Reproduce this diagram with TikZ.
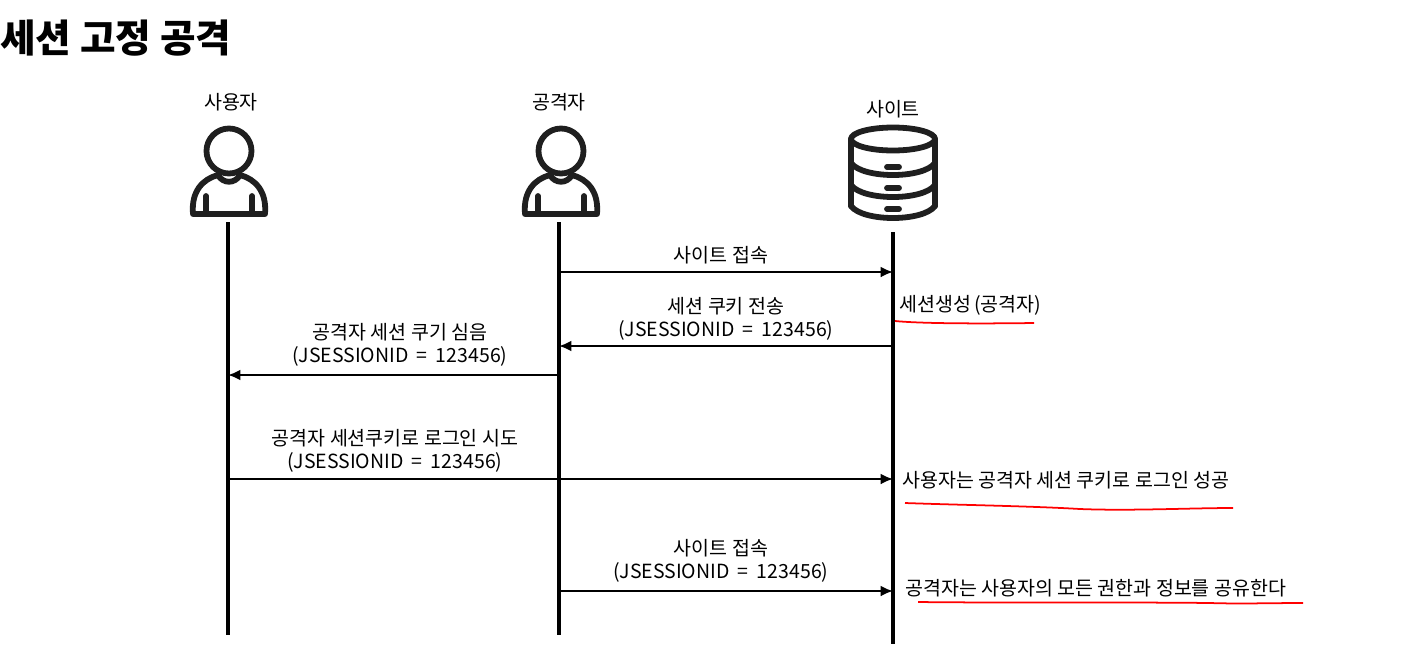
\documentclass[tikz,border=0pt]{standalone}
\usepackage{fontspec}
\setmainfont{Noto Sans CJK KR}
\usetikzlibrary{arrows.meta}
\newcommand{\sessionid}{(JSESSIONID\hspace{2.2pt} = \hspace{2.2pt}123456)}
\tikzset{
    lifeline/.style={line width=2.3pt, black},
    message/.style={line width=1.3pt, -{Latex[length=7pt, width=6.2pt]}},
    msglabel/.style={align=center, inner sep=0pt, font=\fontsize{11.1}{13}\selectfont},
    notelabel/.style={anchor=west, inner sep=0pt, font=\fontsize{11.1}{13}\selectfont},
    scribble/.style={red, line width=1pt},
    icon/.style={line width=3.3pt, color=black!88, line cap=round, line join=round},
    person/.pic={
        \draw[icon] (0, -4) circle (22.5);
        \draw[icon] (-36, 59) -- (36, 59) .. controls (38, 36) and (26, 24) .. (11, 20)
            .. controls (6, 29) and (-6, 29) .. (-11, 20) .. controls (-26, 24) and (-38, 36) .. cycle;
        \draw[icon] (-23, 41) -- (-23, 58);
        \draw[icon] (23, 41) -- (23, 58);
    },
    database/.pic={
        \draw[icon] (0, 0) ellipse (42 and 11.5);
        \draw[icon] (-42, 0) -- (-42, 67);
        \draw[icon] (42, 0) -- (42, 67);
        \foreach \by in {24, 46, 67} {
            \draw[icon] (-42, \by) .. controls (-30, \by + 16) and (30, \by + 16) .. (42, \by);
        }
        \foreach \by in {28, 49, 70} {
            \draw[icon] (-6, \by) -- (6, \by);
        }
    }
}
\begin{document}
\begin{tikzpicture}[x=0.02cm, y=-0.02cm]
    \useasboundingbox (0, 0) rectangle (1409, 664);

    % Title
    \node[anchor=west, inner sep=0pt, font=\fontsize{22}{26}\selectfont\bfseries] (title) at (0, 38) {세션 고정 공격};

    % Actors
    \node[msglabel] (user) at (231, 102.5) {사용자};
    \node[msglabel] (attacker) at (559, 102.5) {공격자};
    \node[msglabel] (site) at (893, 109) {사이트};
    \pic at (229, 155) {person};
    \pic at (561, 155) {person};
    \pic at (893, 139) {database};

    % Lifelines
    \coordinate (userTop) at (228, 222);
    \coordinate (userEnd) at (228, 635);
    \coordinate (attackerTop) at (559, 222);
    \coordinate (attackerEnd) at (559, 635);
    \coordinate (siteTop) at (893, 232);
    \coordinate (siteEnd) at (893, 644);
    \draw[lifeline] (userTop) -- (userEnd);
    \draw[lifeline] (attackerTop) -- (attackerEnd);
    \draw[lifeline] (siteTop) -- (siteEnd);

    % Messages
    \coordinate (m1) at (0, 272);
    \coordinate (m2) at (0, 346);
    \coordinate (m3) at (0, 375);
    \coordinate (m4) at (0, 479);
    \coordinate (m5) at (0, 591);
    \draw[message] (attackerTop |- m1) -- (siteTop |- m1);
    \draw[message] (siteTop |- m2) -- (attackerTop |- m2);
    \draw[message] (attackerTop |- m3) -- (userTop |- m3);
    \draw[message] (userTop |- m4) -- (siteTop |- m4);
    \draw[message] (attackerTop |- m5) -- (siteTop |- m5);

    % Message labels
    \node[msglabel] (visit) at (721, 255) {사이트 접속};
    \node[msglabel] (issue) at (726, 318.5) {세션 쿠키 전송\\\sessionid};
    \node[msglabel] (plant) at (400, 344.5) {공격자 세션 쿠기 심음\\\sessionid};
    \node[msglabel] (login) at (395, 450.5) {공격자 세션쿠키로 로그인 시도\\\sessionid};
    \node[msglabel] (revisit) at (721, 561) {사이트 접속\\\sessionid};

    % Notes on the right and their underlines
    \node[notelabel] (created) at (899, 305) {세션생성\,(공격자)};
    \node[notelabel] (success) at (902, 480) {사용자는 공격자 세션 쿠키로 로그인 성공};
    \node[notelabel] (shared) at (905, 588) {공격자는 사용자의 모든 권한과 정보를 공유한다};
    \draw[scribble] (895, 321) .. controls (915, 323) and (960, 324) .. (1034, 323);
    \draw[scribble] (905, 503) .. controls (960, 505) and (1030, 506) .. (1080, 509)
        .. controls (1130, 511) and (1190, 508) .. (1233, 508);
    \draw[scribble] (918, 602) .. controls (1000, 603) and (1130, 602) .. (1210, 603)
        .. controls (1240, 604) and (1270, 603) .. (1303, 603);
\end{tikzpicture}
\end{document}
